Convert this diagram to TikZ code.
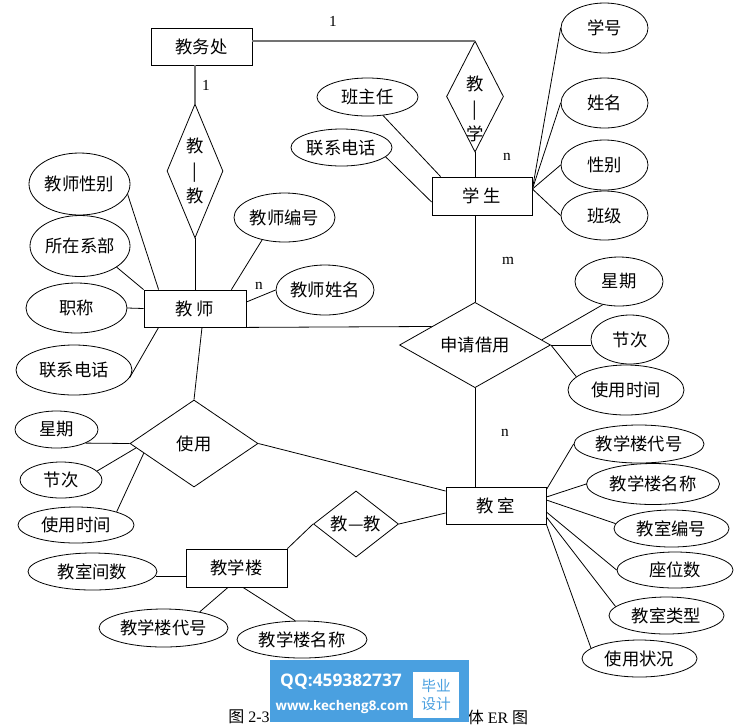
\documentclass[tikz,border=0pt]{standalone}
\usepackage{fontspec}
\setmainfont{Liberation Serif}
\newfontfamily\cjk{Noto Sans CJK SC}
\newfontfamily\wmfont{Open Sans}
\usetikzlibrary{shapes.geometric,calc}
\definecolor{wmblue}{RGB}{74,160,224}

\tikzset{
  cn/.style={font=\cjk\fontsize{13}{15}\selectfont},
  ent/.style={cn, draw, rectangle, inner sep=0pt},
  rel/.style={cn, draw, diamond, inner sep=0pt},
  attr/.style={cn, draw, ellipse, inner sep=0pt},
  sz/.style 2 args={minimum width=#1*0.75pt, minimum height=#2*0.75pt},
  vtext/.style={align=center, font=\cjk\fontsize{13}{18.75}\selectfont, inner sep=0pt},
  card/.style={font=\fontsize{11.5}{12}\selectfont, inner sep=0pt},
  heavy/.style={draw=black!55, line width=1.5pt},
}

\begin{document}
\begin{tikzpicture}[x=0.75pt, y=-0.75pt, line width=0.6pt]
    \useasboundingbox (0,0) rectangle (741,726);

    % entities
    \node[ent, sz={101}{37}] (jwc) at (201.5,46.5) {教务处};
    \node[ent, sz={100}{38}] (xs) at (482,196) {学\ 生};
    \node[ent, sz={102}{37}] (js) at (195,308.5) {教\ 师};
    \node[ent, sz={100}{37}] (jsh) at (496,505.5) {教\ 室};
    \node[ent, sz={101}{38}] (jxl) at (236.5,568) {教学楼};

    % relations
    \node[rel, sz={56}{134}, label={[vtext]center:教\\|\\教}] (jj) at (195,171) {};
    \node[rel, sz={57}{111}, label={[vtext, yshift=-9pt]center:教\\|\\学}] (jx) at (475,96.5) {};
    \node[rel, sz={151}{84}] (sq) at (475,345) {申请借用};
    \node[rel, sz={128}{87}] (sy) at (194,443.5) {使用};
    \node[rel, sz={85}{49}] (jj2) at (356,524) {教—教};

    % attributes
    \node[attr, sz={87}{50}] (xh) at (604.5,28) {学号};
    \node[attr, sz={87}{50}] (xm) at (604.5,103) {姓名};
    \node[attr, sz={87}{50}] (xb) at (604.5,165) {性别};
    \node[attr, sz={87}{49}] (bj) at (604.5,215.5) {班级};
    \node[attr, sz={101}{38}] (bzr) at (367.5,97) {班主任};
    \node[attr, sz={101}{37}] (xsdh) at (341.5,147.5) {联系电话};
    \node[attr, sz={101}{62}] (jsxb) at (79.5,184) {教师性别};
    \node[attr, sz={100}{61}] (szxb) at (80,246) {所在系部};
    \node[attr, sz={101}{50}] (zc) at (76.5,308) {职称};
    \node[attr, sz={116}{50}] (jsdh) at (74,370) {联系电话};
    \node[attr, sz={101}{49}] (jsbh) at (284.5,217.5) {教师编号};
    \node[attr, sz={98}{50}] (jsxm) at (325,290) {教师姓名};
    \node[attr, sz={83}{37}] (xq1) at (56.5,429.5) {星期};
    \node[attr, sz={82}{36}] (jc1) at (61,480) {节次};
    \node[attr, sz={116}{36}] (sj1) at (76,525) {使用时间};
    \node[attr, sz={129}{37}] (jsjs) at (92.5,571.5) {教室间数};
    \node[attr, sz={129}{38}] (ldh2) at (163.5,628) {教学楼代号};
    \node[attr, sz={130}{37}] (lmc2) at (302,639.5) {教学楼名称};
    \node[attr, sz={88}{49}] (xq2) at (619,281.5) {星期};
    \node[attr, sz={78}{49}] (jc2) at (630,339.5) {节次};
    \node[attr, sz={116}{50}] (sj2) at (626,390) {使用时间};
    \node[attr, sz={130}{38}] (ldh1) at (639,444) {教学楼代号};
    \node[attr, sz={133}{41}] (lmc1) at (653,484) {教学楼名称};
    \node[attr, sz={115}{37}] (jsbh2) at (671.5,528.5) {教室编号};
    \node[attr, sz={116}{36}] (zws) at (675,570) {座位数};
    \node[attr, sz={115}{37}] (jslx) at (666.5,615.5) {教室类型};
    \node[attr, sz={115}{37}] (syzk) at (639.5,658.5) {使用状况};

    % cardinalities
    \node[card] (c1) at (333,21) {1};
    \node[card] (c2) at (206,85) {1};
    \node[card] (c3) at (259,286) {n};
    \node[card] (c4) at (507,157) {n};
    \node[card] (c5) at (508,261) {m};
    \node[card] (c6) at (505,433) {n};

    % links between entities and relations
    \draw[heavy] (jwc.east |- jx.north) -- (jx.north);
    \draw[heavy] (jwc.south -| jj.north) -- (jj.north);
    \draw (jj.south) -- (js.north);
    \draw (jx.south) -- (jx.south |- xs.north);
    \draw (xs.south -| sq.north) -- (sq.north);
    \draw (sq.south) -- (sq.south |- jsh.north);
    \draw (js.south east) -- ($(sq.west)!0.43!(sq.north)$);
    \draw ($(js.south)+(7,0)$) -- (sy.north);
    \draw (sy.east) -- ($(jsh.west)+(0,-14.5)$);
    \draw (jj2.east) -- ($(jsh.west)+(0,7.5)$);
    \draw (jj2.west) -- (jxl.north east);

    % teacher attributes
    \draw ($(js.east)+(0,-6.5)$) -- (jsxm.west);
    \draw ($(js.north east)+(-15,0)$) -- (jsbh.225);
    \draw (jsxb.-12) -- ($(js.north west)+(15,0)$);
    \draw (szxb.-30) -- (js.north west);
    \draw (zc.east) -- (js.west);
    \draw (jsdh.-8) -- ($(js.south west)+(15,0)$);

    % student attributes
    \coordinate (xsr) at ($(xs.east)+(0,-7)$);
    \foreach \a in {xh,xm,xb,bj}
      \draw (xsr) -- (\a.west);
    \draw ($(xs.north west)+(9,0)$) -- (bzr.-50);
    \draw ($(xs.west)+(0,6)$) -- (xsdh.-12);

    % use attributes
    \draw (xq1.-25) -- (sy.west);
    \draw (jc1.14) -- ($(sy.west)!0.1!(sy.south)$);
    \draw (sj1.18) -- ($(sy.west)!0.22!(sy.south)$);

    % apply attributes
    \draw ($(sq.east)!0.12!(sq.north)$) -- (xq2.235);
    \draw (sq.east) -- (sq.east -| jc2.west);
    \draw (sq.east) -- (sj2.165);

    % building attributes
    \draw (jsjs.-4) -- (jsjs.-4 -| jxl.west);
    \draw ($(jxl.south)+(-8.5,0)$) -- (ldh2.24);
    \draw ($(jxl.south)+(6.5,0)$) -- (lmc2.110);

    % classroom attributes
    \draw ($(jsh.north east)+(0,3)$) -- (ldh1.west);
    \draw ($(jsh.east)+(0,-8.5)$) -- (lmc1.west);
    \draw ($(jsh.east)+(0,-5.5)$) -- (jsbh2.175);
    \draw ($(jsh.east)+(0,6.5)$) -- (zws.west);
    \draw ($(jsh.east)+(0,11.5)$) -- (jslx.170);
    \draw (jsh.south east) -- (syzk.168);

    % caption and stamp
    \node[font=\fontsize{12}{13}\selectfont, inner sep=0pt] (cap1) at (249,717) {{\cjk 图} 2-3};
    \node[font=\fontsize{12}{13}\selectfont, inner sep=0pt] (cap2) at (498,717) {{\cjk 体} ER {\cjk 图}};
    \node[fill=wmblue, sz={199}{62}, inner sep=0pt] (wm) at (369.5,691) {};
    \node[font=\wmfont\bfseries\fontsize{13}{14}\selectfont, text=white, inner sep=0pt] (wmqq) at (341,682) {QQ:459382737};
    \node[font=\wmfont\bfseries\fontsize{10}{12}\selectfont, text=white, inner sep=0pt] (wmurl) at (342,707) {www.kecheng8.com};
    \node[fill=white, sz={46}{46}, inner sep=0pt] (wmbox) at (436,695) {};
    \node[align=center, text=wmblue, font=\cjk\fontsize{11}{13}\selectfont, inner sep=0pt] (wmtxt) at (436,695) {毕业\\设计};
\end{tikzpicture}
\end{document}
